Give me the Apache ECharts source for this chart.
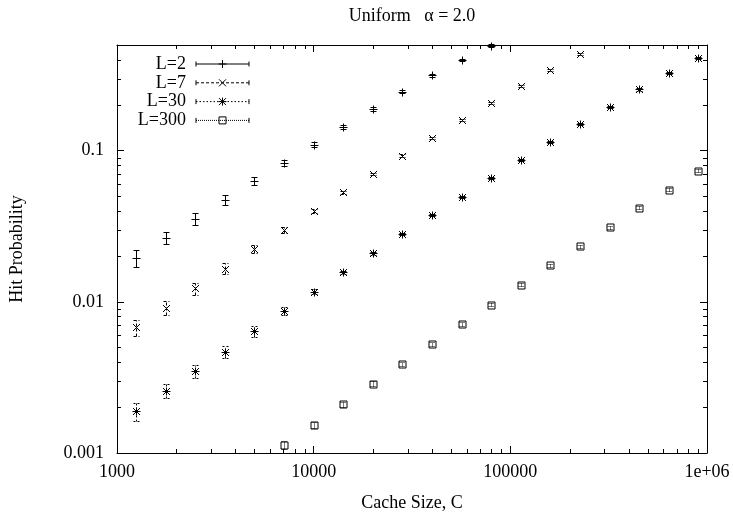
<!DOCTYPE html>
<html>
<head>
<meta charset="utf-8">
<script src="https://cdn.jsdelivr.net/npm/echarts@6/dist/echarts.min.js"></script>
<style>
html,body{margin:0;padding:0;background:#fff;}
#chart{width:733px;height:517px;}
</style>
</head>
<body>
<div id="chart"></div>
<script>
// ---- data ----
const cacheSizes = [1250, 1768, 2500, 3536, 5000, 7071, 10000, 14142, 20000, 28284, 40000, 56569, 80000, 113137, 160000, 226274, 320000, 452548, 640000, 905097];

const hitL2  = [0.0196, 0.0265, 0.0353, 0.0475, 0.0633, 0.0834, 0.1095, 0.1443, 0.1876, 0.245, 0.315, 0.397, 0.495];
const errL2  = [0.0025, 0.0025, 0.0033, 0.0037, 0.0039, 0.0038, 0.0042, 0.0045, 0.0055, 0.006, 0.007, 0.008, 0.009];

const hitL7  = [0.00677, 0.00916, 0.01226, 0.0166, 0.02243, 0.0299, 0.0401, 0.0530, 0.0703, 0.0927, 0.1217, 0.159, 0.2076, 0.2668, 0.3433, 0.4352];
const errL7  = [0.00085, 0.001, 0.0011, 0.0014, 0.0014, 0.0014, 0.0012, 0.0012, 0.0014, 0.0017, 0.002, 0.0025, 0.003, 0.004, 0.005, 0.006];

const hitL30 = [0.001897, 0.00259, 0.00347, 0.00469, 0.00638, 0.00871, 0.01167, 0.0157, 0.02102, 0.0281, 0.0375, 0.0497, 0.0659, 0.0873, 0.1146, 0.1497, 0.1955, 0.254, 0.3266, 0.410];
const errL30 = [0.00026, 0.00028, 0.00034, 0.00043, 0.00049, 0.00047, 0.00045, 0.0004, 0.0005, 0.0006, 0.0007, 0.0008, 0.001, 0.0013, 0.0017, 0.0022, 0.003, 0.004, 0.005, 0.006];

const hitL300 = [null, null, null, null, null, 0.001135, 0.001535, 0.00211, 0.00288, 0.00386, 0.0053, 0.00712, 0.00958, 0.01297, 0.01746, 0.02336, 0.03112, 0.042, 0.0553, 0.0739];
const errL300 = [null, null, null, null, null, 0.00007, 0.00007, 0.00008, 0.0001, 0.00012, 0.00016, 0.0002, 0.00025, 0.0003, 0.0004, 0.0005, 0.0006, 0.0008, 0.001, 0.0013];

const seriesNames = ['L=2', 'L=7', 'L=30', 'L=300'];

const xTickValues = [1000, 10000, 100000, 1000000];
const xTickLabels = ['1000', '10000', '100000', '1e+06'];
const yTickValues = [0.001, 0.01, 0.1];
const yTickLabels = ['0.001', '0.01', '0.1'];

const xMinorTicks = [2000, 3000, 4000, 5000, 6000, 7000, 8000, 9000,
  20000, 30000, 40000, 50000, 60000, 70000, 80000, 90000,
  200000, 300000, 400000, 500000, 600000, 700000, 800000, 900000];
const yMinorTicks = [0.002, 0.003, 0.004, 0.005, 0.006, 0.007, 0.008, 0.009,
  0.02, 0.03, 0.04, 0.05, 0.06, 0.07, 0.08, 0.09, 0.2, 0.3, 0.4];

const titleText = 'Uniform   \u03b1 = 2.0';
const xName = 'Cache Size, C';
const yName = 'Hit Probability';

// ---- build ----
const FONT = "'Liberation Serif', 'DejaVu Serif', serif";
const FS = 18;

function toTriples(hits, errs) {
  const out = [];
  for (let i = 0; i < cacheSizes.length; i++) {
    if (i < hits.length && hits[i] != null) out.push([cacheSizes[i], hits[i], errs[i]]);
  }
  return out;
}

function labelFor(vals, labels) {
  return function (v) {
    for (let i = 0; i < vals.length; i++) {
      if (Math.abs(Math.log10(v) - Math.log10(vals[i])) < 1e-6) return labels[i];
    }
    return '';
  };
}

function snap(v) { return Math.round(v) + 0.5; }

function makeRender(kind, dash) {
  return function (params, api) {
    const x = api.value(0), y = api.value(1), e = api.value(2);
    const p = api.coord([x, y]);
    const lo = api.coord([x, Math.max(y - e, 1e-9)]);
    const hi = api.coord([x, y + e]);
    const cx = snap(p[0]), cy = snap(p[1]);
    const ly = snap(lo[1]), hy = snap(hi[1]);
    const barStyle = { stroke: '#000', lineWidth: 1, fill: null, lineDash: dash };
    const mk = { stroke: '#000', lineWidth: 1, fill: null };
    const ch = [];
    ch.push({ type: 'line', shape: { x1: cx, y1: ly, x2: cx, y2: hy }, style: barStyle });
    ch.push({ type: 'line', shape: { x1: cx - 3, y1: ly, x2: cx + 3, y2: ly }, style: barStyle });
    ch.push({ type: 'line', shape: { x1: cx - 3, y1: hy, x2: cx + 3, y2: hy }, style: barStyle });
    const h = 4, d = 3.5;
    if (kind === 'plus' || kind === 'star') {
      ch.push({ type: 'line', shape: { x1: cx - h, y1: cy, x2: cx + h, y2: cy }, style: mk });
      ch.push({ type: 'line', shape: { x1: cx, y1: cy - h, x2: cx, y2: cy + h }, style: mk });
    }
    if (kind === 'cross' || kind === 'star') {
      ch.push({ type: 'line', shape: { x1: cx - d, y1: cy - d, x2: cx + d, y2: cy + d }, style: mk });
      ch.push({ type: 'line', shape: { x1: cx - d, y1: cy + d, x2: cx + d, y2: cy - d }, style: mk });
    }
    if (kind === 'square') {
      ch.push({ type: 'rect', shape: { x: cx - 3.5, y: cy - 3.5, width: 7, height: 7 }, style: mk });
    }
    return { type: 'group', children: ch };
  };
}

// legend icons (line sample + marker + end caps)
const IW = 53, IH = 8;
function dashedSegs(on, off) {
  let s = '';
  let x = 0;
  while (x < IW) {
    const x2 = Math.min(x + on, IW);
    s += 'M' + x + ',4L' + x2 + ',4';
    x += on + off;
  }
  return s;
}
const caps = 'M0,1.5L0,6.5M53,1.5L53,6.5';
const icons = [
  'path://M0,4L53,4' + caps + 'M26.5,0L26.5,8M22.5,4L30.5,4',
  'path://' + dashedSegs(3, 2) + caps + 'M23,0.5L30,7.5M23,7.5L30,0.5',
  'path://' + dashedSegs(1.5, 2) + caps + 'M26.5,0L26.5,8M22.5,4L30.5,4M23,0.5L30,7.5M23,7.5L30,0.5',
  'path://' + dashedSegs(1, 1) + caps + 'M23,0.5L30,0.5L30,7.5L23,7.5Z'
];

const kinds = ['plus', 'cross', 'star', 'square'];
const dashes = [null, [3, 2], [2, 2], [1, 1]];
const dataSets = [toTriples(hitL2, errL2), toTriples(hitL7, errL7), toTriples(hitL30, errL30), toTriples(hitL300, errL300)];

const series = seriesNames.map((name, i) => ({
  name: name,
  type: 'custom',
  xAxisIndex: 0, yAxisIndex: 0,
  data: dataSets[i],
  encode: { x: 0, y: 1 },
  itemStyle: { color: '#000' },
  renderItem: makeRender(kinds[i], dashes[i]),
  z: 5
}));

series.push({
  type: 'custom', silent: true, xAxisIndex: 0, yAxisIndex: 0,
  data: xMinorTicks.map(v => [v, 0.01]),
  encode: { x: 0, y: 1 },
  renderItem: function (params, api) {
    const px = snap(api.coord([api.value(0), 0.01])[0]);
    const cs = params.coordSys;
    const st = { stroke: '#000', lineWidth: 1 };
    return { type: 'group', children: [
      { type: 'line', shape: { x1: px, y1: cs.y + cs.height, x2: px, y2: cs.y + cs.height - 4 }, style: st },
      { type: 'line', shape: { x1: px, y1: cs.y, x2: px, y2: cs.y + 4 }, style: st }
    ] };
  }
});
series.push({
  type: 'custom', silent: true, xAxisIndex: 0, yAxisIndex: 0,
  data: yMinorTicks.map(v => [10000, v]),
  encode: { x: 0, y: 1 },
  renderItem: function (params, api) {
    const py = snap(api.coord([10000, api.value(1)])[1]);
    const cs = params.coordSys;
    const st = { stroke: '#000', lineWidth: 1 };
    return { type: 'group', children: [
      { type: 'line', shape: { x1: cs.x, y1: py, x2: cs.x + 4, y2: py }, style: st },
      { type: 'line', shape: { x1: cs.x + cs.width, y1: py, x2: cs.x + cs.width - 4, y2: py }, style: st }
    ] };
  }
});

const axisLine = { show: true, lineStyle: { color: '#000', width: 1 } };
const tick = { show: true, inside: true, length: 7, lineStyle: { color: '#000', width: 1 } };
const lbl = { color: '#000', fontFamily: FONT, fontSize: FS };

const option = {
  animation: false,
  backgroundColor: '#fff',
  grid: { left: 117, right: 26, top: 45, bottom: 60, containLabel: false },
  legend: {
    orient: 'vertical',
    left: 136, top: 55,
    padding: 0,
    align: 'right',
    itemWidth: IW, itemHeight: IH,
    itemGap: 0.8,
    selectedMode: false,
    itemStyle: { color: 'rgba(0,0,0,0)', borderColor: '#000', borderWidth: 1 },
    textStyle: { color: '#000', fontFamily: FONT, fontSize: FS, lineHeight: 18, width: 50, align: 'right', overflow: 'none', padding: [0, 5, 0, 0] },
    data: seriesNames.map((n, i) => ({ name: n, icon: icons[i] }))
  },
  xAxis: [
    {
      type: 'log', logBase: 10, min: 1000, max: 1000000, position: 'bottom',
      axisLine: axisLine, axisTick: tick, splitLine: { show: false },
      axisLabel: Object.assign({ margin: 10, formatter: labelFor(xTickValues, xTickLabels) }, lbl),
      name: xName, nameLocation: 'middle', nameGap: 41,
      nameTextStyle: { color: '#000', fontFamily: FONT, fontSize: FS }
    },
    {
      type: 'log', logBase: 10, min: 1000, max: 1000000, position: 'top',
      axisLine: axisLine, axisTick: tick, splitLine: { show: false },
      axisLabel: { show: false },
      name: titleText, nameLocation: 'middle', nameGap: 20,
      nameTextStyle: { color: '#000', fontFamily: FONT, fontSize: FS }
    }
  ],
  yAxis: [
    {
      type: 'log', logBase: 10, min: 0.001, max: 0.5, position: 'left',
      axisLine: axisLine, axisTick: tick, splitLine: { show: false },
      axisLabel: Object.assign({ margin: 13, formatter: labelFor(yTickValues, yTickLabels) }, lbl),
      name: yName, nameLocation: 'middle', nameGap: 91, nameRotate: 90,
      nameTextStyle: { color: '#000', fontFamily: FONT, fontSize: FS }
    },
    {
      type: 'log', logBase: 10, min: 0.001, max: 0.5, position: 'right',
      axisLine: axisLine, axisTick: tick, splitLine: { show: false },
      axisLabel: { show: false }
    }
  ],
  series: series
};

const chart = echarts.init(document.getElementById('chart'), null, { renderer: 'canvas' });
chart.setOption(option);
</script>
</body>
</html>
